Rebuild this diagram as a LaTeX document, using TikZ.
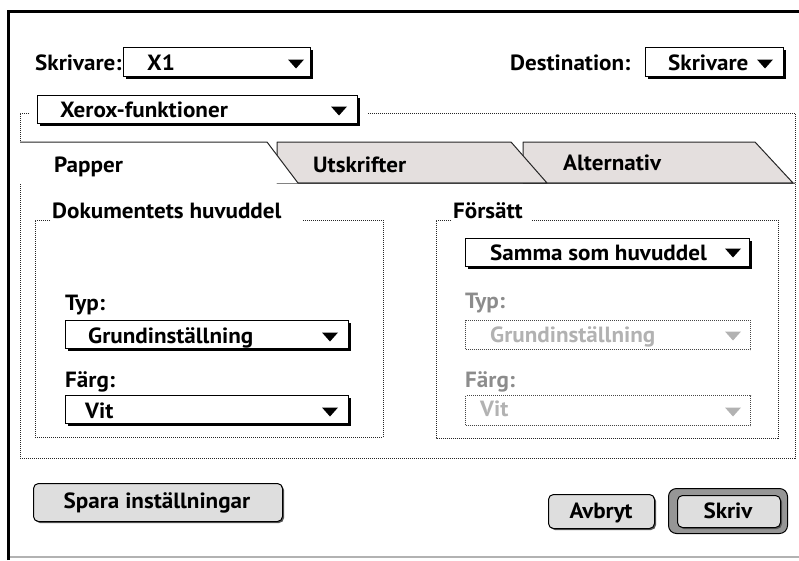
\documentclass[tikz,border=0pt]{standalone}
\usepackage{fontspec}
\setmainfont{PT Sans}[FakeStretch=1.05]
\usepackage{xcolor}
\usepackage{tikz}
\usetikzlibrary{positioning,shadows}

\definecolor{tabgray}{RGB}{228,223,222}
\definecolor{btngray}{RGB}{222,222,222}
\definecolor{ringgray}{RGB}{150,150,150}
\definecolor{dimtext}{RGB}{140,140,140}
\definecolor{dimline}{RGB}{70,70,70}

\tikzset{
	menuarrow/.pic={\fill[pic actions] (-8,-4.5) -- (8,-4.5) -- (0,4.5) -- cycle;},
}

\begin{document}
\begin{tikzpicture}[x=1pt, y=-1pt,
		every node/.style={font=\fontsize{22}{26}\selectfont\bfseries},
		lbl/.style={anchor=base west, inner sep=0pt},
		popup/.style={draw, fill=white, line width=1pt, anchor=north west, inner sep=0pt,
			drop shadow={shadow xshift=2pt, shadow yshift=-2pt, fill=black, opacity=1}},
		dimpopup/.style={draw=dimline, densely dotted, line width=1pt, anchor=north west, inner sep=0pt},
		grpline/.style={densely dotted, line width=1pt, black!85},
		tabline/.style={line width=1pt, black!85, line join=round},
		button/.style={draw, fill=btngray, line width=1pt, rounded corners=5pt, anchor=north west, inner sep=0pt,
			drop shadow={shadow xshift=1.5pt, shadow yshift=-1.5pt, fill=black!65, opacity=1}},
	]
	\useasboundingbox (0,0) rectangle (799,560);

	% window frame
	\draw[line width=3pt] (8.5,560) -- (8.5,11.5) -- (799,11.5);
	\draw[gray!60, line width=1.5pt] (10,557) -- (799,557);

	% printer and destination
	\node[lbl] (printerlbl) at (35,70) {Skrivare:};
	\node[popup, minimum width=187pt, minimum height=29pt] (printer) at (123,47) {};
	\node[lbl] (printername) at (147,70) {X1};
	\pic at (296,64) {menuarrow};

	\node[lbl] (destlbl) at (510,70) {Destination:};
	\node[popup, minimum width=138pt, minimum height=29pt] (dest) at (645,47) {};
	\node[lbl] (destname) at (668,70) {Skrivare};
	\pic at (765,64) {menuarrow};

	% outer group
	\draw[grpline] (29,113) -- (20,113) -- (20,458) -- (795,458) -- (795,113) -- (368,113);
	\node[popup, minimum width=320pt, minimum height=28pt] (panel) at (37,95) {};
	\node[lbl] (panelname) at (60,117) {Xerox-funktioner};
	\pic at (339,111) {menuarrow};

	% tabs
	\filldraw[tabline, fill=tabgray] (523,183) -- (523,142) -- (755,142) -- (793,183) -- cycle;
	\filldraw[tabline, fill=tabgray] (277,183) -- (277,142) -- (511,142) -- (547,183) -- cycle;
	\fill[white] (20,183) -- (20,142) -- (267,142) -- (298,183) -- cycle;
	\draw[tabline] (20,142) -- (267,142) -- (298,183) -- (795,183);
	\node[lbl] (tabpaper) at (54,172) {Papper};
	\node[lbl] (tabprint) at (313,172) {Utskrifter};
	\node[lbl] (tabopt) at (563,170) {Alternativ};

	% main body group
	\draw[grpline] (50,220) -- (35,220) -- (35,437) -- (383,437) -- (383,220) -- (303,220);
	\node[lbl] (bodytitle) at (52,218) {Dokumentets huvuddel};
	\node[lbl] (bodytype) at (65,310) {Typ:};
	\node[popup, minimum width=283pt, minimum height=28pt] (bodytypebox) at (65,320) {};
	\node[lbl] (bodytypeval) at (88,343) {Grundinställning};
	\pic at (330,337) {menuarrow};
	\node[lbl] (bodycolor) at (65,387) {Färg:};
	\node[popup, minimum width=283pt, minimum height=28pt] (bodycolorbox) at (65,395) {};
	\node[lbl] (bodycolorval) at (85,418) {Vit};
	\pic at (330,412) {menuarrow};

	% cover group
	\draw[grpline] (451,220) -- (436,220) -- (436,438) -- (778,438) -- (778,220) -- (532,220);
	\node[lbl] (covertitle) at (453,218) {Försätt};
	\node[popup, minimum width=284pt, minimum height=28pt] (coversrc) at (465,238) {};
	\node[lbl] (coversrcval) at (490,260) {Samma som huvuddel};
	\pic at (733,253) {menuarrow};
	\node[lbl, dimtext] (covertype) at (465,308) {Typ:};
	\node[dimpopup, minimum width=285pt, minimum height=29pt] (covertypebox) at (465,320) {};
	\node[lbl, gray!60] (covertypeval) at (490,342) {Grundinställning};
	\pic[gray!60] at (733,336) {menuarrow};
	\node[lbl, dimtext] (covercolor) at (465,387) {Färg:};
	\node[dimpopup, minimum width=285pt, minimum height=30pt] (covercolorbox) at (465,395) {};
	\node[lbl, gray!60] (covercolorval) at (480,416) {Vit};
	\pic[gray!60] at (733,412) {menuarrow};

	% buttons
	\node[button, minimum width=249pt, minimum height=38pt] (save) at (33,483) {};
	\node[lbl, anchor=base] (savetxt) at (157,508) {Spara inställningar};

	\node[button, minimum width=106pt, minimum height=34pt] (cancel) at (548,494) {};
	\node[lbl, anchor=base] (canceltxt) at (601,518) {Avbryt};

	\node[draw, fill=ringgray, line width=1pt, rounded corners=8pt, anchor=north west,
		minimum width=119pt, minimum height=45pt] (printring) at (668,488) {};
	\node[button, minimum width=103pt, minimum height=32pt] (printbtn) at (677,495) {};
	\node[lbl, anchor=base] (printtxt) at (728,518) {Skriv};
\end{tikzpicture}
\end{document}
